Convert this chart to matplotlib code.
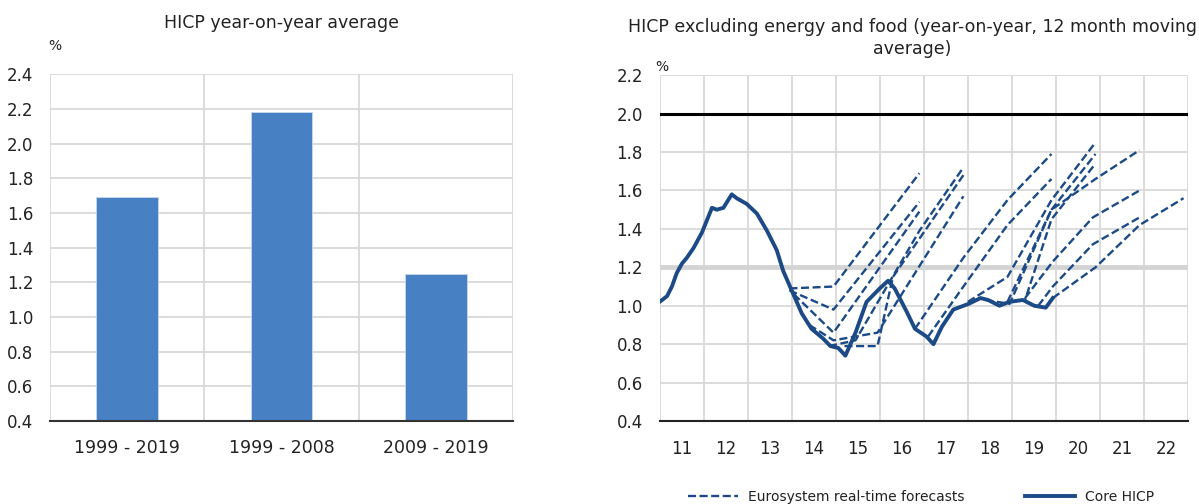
import matplotlib
matplotlib.use("Agg")
import matplotlib.pyplot as plt
from matplotlib.lines import Line2D

plt.rcParams['font.family'] = ['DejaVu Sans']

# ========== DATA ==========
# left panel: HICP year-on-year average
periods = ["1999 - 2019", "1999 - 2008", "2009 - 2019"]
hicp_avg = [1.69, 2.18, 1.25]

# right panel: core HICP (12m moving average)
core_x = [2011.0, 2011.17, 2011.28, 2011.39, 2011.51, 2011.62, 2011.77, 2011.96,
          2012.19, 2012.30, 2012.45, 2012.64, 2012.75, 2012.98, 2013.21, 2013.44,
          2013.66, 2013.81, 2014.0, 2014.23, 2014.45, 2014.71, 2014.88, 2015.06,
          2015.22, 2015.45, 2015.70, 2016.0, 2016.19, 2016.34, 2016.61, 2016.80,
          2017.06, 2017.22, 2017.41, 2017.67, 2018.02, 2018.29, 2018.46, 2018.72,
          2018.94, 2019.25, 2019.51, 2019.77, 2019.93]
core_y = [1.02, 1.05, 1.10, 1.17, 1.22, 1.25, 1.30, 1.38,
          1.51, 1.50, 1.51, 1.58, 1.56, 1.53, 1.48, 1.39,
          1.29, 1.18, 1.08, 0.96, 0.88, 0.83, 0.79, 0.78,
          0.74, 0.86, 1.02, 1.09, 1.13, 1.09, 0.97, 0.88,
          0.84, 0.80, 0.89, 0.98, 1.01, 1.04, 1.03, 1.00,
          1.02, 1.03, 1.00, 0.99, 1.04]

# Eurosystem real-time forecasts (one list per vintage)
fc_x = [
    [2013.95, 2014.95, 2016.9],
    [2013.95, 2014.95, 2016.9],
    [2014.05, 2014.95, 2016.9],
    [2014.4, 2014.95, 2015.95, 2017.9],
    [2014.85, 2015.45, 2016.9, 2017.9],
    [2015.2, 2015.95, 2016.3, 2017.9],
    [2016.8, 2017.9, 2018.9, 2019.9],
    [2017.1, 2017.9, 2018.9, 2019.9],
    [2018.0, 2018.9, 2019.9, 2020.9],
    [2018.4, 2018.95, 2019.9, 2020.9],
    [2018.9, 2019.3, 2019.9, 2020.9],
    [2018.9, 2019.9, 2020.9, 2021.9],
    [2019.3, 2019.93, 2020.84, 2021.9],
    [2019.6, 2019.93, 2020.84, 2021.9],
    [2019.93, 2020.9, 2021.9, 2022.9],
]
fc_y = [
    [1.09, 1.10, 1.69],
    [1.08, 0.98, 1.54],
    [1.06, 0.86, 1.49],
    [0.90, 0.82, 0.86, 1.57],
    [0.79, 0.82, 1.39, 1.72],
    [0.79, 0.79, 1.15, 1.68],
    [0.88, 1.25, 1.55, 1.79],
    [0.84, 1.10, 1.42, 1.66],
    [1.02, 1.15, 1.55, 1.85],
    [1.03, 1.01, 1.50, 1.79],
    [1.02, 1.03, 1.45, 1.74],
    [1.02, 1.50, 1.66, 1.81],
    [1.04, 1.23, 1.46, 1.60],
    [1.00, 1.10, 1.32, 1.46],
    [1.04, 1.20, 1.42, 1.56],
]

year_labels = ["11", "12", "13", "14", "15", "16", "17", "18", "19", "20", "21", "22"]

# ========== STYLE ==========
BAR_COLOR = "#4780c3"
LINE_COLOR = "#1b4a86"
GRID_COLOR = "#d9d9d9"
TXT = "#222222"
FS_TITLE = 12.5
FS_TICK = 12
FS_LEG = 10
DASH = (0, (3.4, 1.5))

fig = plt.figure(figsize=(11.99, 5.04), dpi=100)

# ========== LEFT PANEL ==========
ax1 = fig.add_axes([0.0417, 0.1647, 0.386, 0.688])
xs = list(range(len(periods)))
ax1.bar(xs, hicp_avg, width=0.4, color=BAR_COLOR, edgecolor="#c9d9ee", linewidth=0.6,
        zorder=3)
ax1.set_xlim(-0.5, 2.5)
ax1.set_ylim(0.4, 2.4)
ax1.set_yticks([0.4 + 0.2 * i for i in range(11)])
ax1.set_yticklabels([f"{0.4 + 0.2 * i:.1f}" for i in range(11)])
ax1.set_xticks(xs)
ax1.set_xticklabels(periods)
for v in [-0.5, 0.5, 1.5, 2.5]:
    ax1.axvline(v, color=GRID_COLOR, lw=1.3, zorder=1)
ax1.yaxis.grid(True, color=GRID_COLOR, lw=1.3, zorder=1)
ax1.set_axisbelow(True)
for s in ["top", "right", "left"]:
    ax1.spines[s].set_visible(False)
ax1.spines["bottom"].set_color("#333333")
ax1.spines["bottom"].set_linewidth(1.5)
ax1.spines["bottom"].set_zorder(4)
ax1.tick_params(length=0, colors=TXT)
ax1.tick_params(axis="y", pad=12, labelsize=FS_TICK)
ax1.tick_params(axis="x", pad=13, labelsize=FS_TITLE)
ax1.set_title("HICP year-on-year average", fontsize=FS_TITLE, color=TXT, pad=33)
fig.text(55 / 1199, 1 - 46 / 504, "%", fontsize=FS_LEG, color=TXT, ha="center", va="center")

# ========== RIGHT PANEL ==========
ax2 = fig.add_axes([0.5501, 0.1647, 0.4407, 0.686])
ax2.set_xlim(2011, 2023)
ax2.set_ylim(0.4, 2.2)
ax2.set_yticks([0.4 + 0.2 * i for i in range(10)])
ax2.set_yticklabels([f"{0.4 + 0.2 * i:.1f}" for i in range(10)])
ax2.set_xticks(list(range(2011, 2024)))
ax2.set_xticklabels([])
ax2.set_xticks([2011.5 + i for i in range(len(year_labels))], minor=True)
ax2.set_xticklabels(year_labels, minor=True)
ax2.grid(True, which="major", color=GRID_COLOR, lw=1.3, zorder=0)
ax2.set_axisbelow(True)
for s in ["top", "right", "left"]:
    ax2.spines[s].set_visible(False)
ax2.spines["bottom"].set_color("#222222")
ax2.spines["bottom"].set_linewidth(1.5)
ax2.tick_params(which="both", length=0, colors=TXT)
ax2.tick_params(axis="y", pad=12, labelsize=FS_TICK)
ax2.tick_params(axis="x", which="minor", pad=14, labelsize=FS_TICK)

ax2.axhline(1.2, color="#d4d4d4", lw=3.5, zorder=1)
ax2.axhline(2.0, color="black", lw=2.2, zorder=2)

for fx, fy in zip(fc_x, fc_y):
    ax2.plot(fx, fy, color=LINE_COLOR, lw=1.7, ls=DASH, zorder=3)
ax2.plot(core_x, core_y, color=LINE_COLOR, lw=2.8, zorder=4)

ax2.set_title("HICP excluding energy and food (year-on-year, 12 month moving\naverage)",
              fontsize=FS_TITLE, color=TXT, pad=15, x=0.478, linespacing=1.3)
fig.text(662 / 1199, 1 - 67 / 504, "%", fontsize=FS_LEG, color=TXT, ha="center", va="center")

# ========== LEGEND ==========
handles = [Line2D([], [], color=LINE_COLOR, lw=1.7, ls=DASH),
           Line2D([], [], color=LINE_COLOR, lw=2.8)]
fig.legend(handles, ["Eurosystem real-time forecasts", "Core HICP"],
           loc="lower center", bbox_to_anchor=(921 / 1199, -0.025), ncol=2,
           frameon=False, fontsize=FS_LEG, handlelength=3.6, columnspacing=4.4,
           handletextpad=0.7, labelcolor=TXT)

fig.savefig("out.png", dpi=100)
